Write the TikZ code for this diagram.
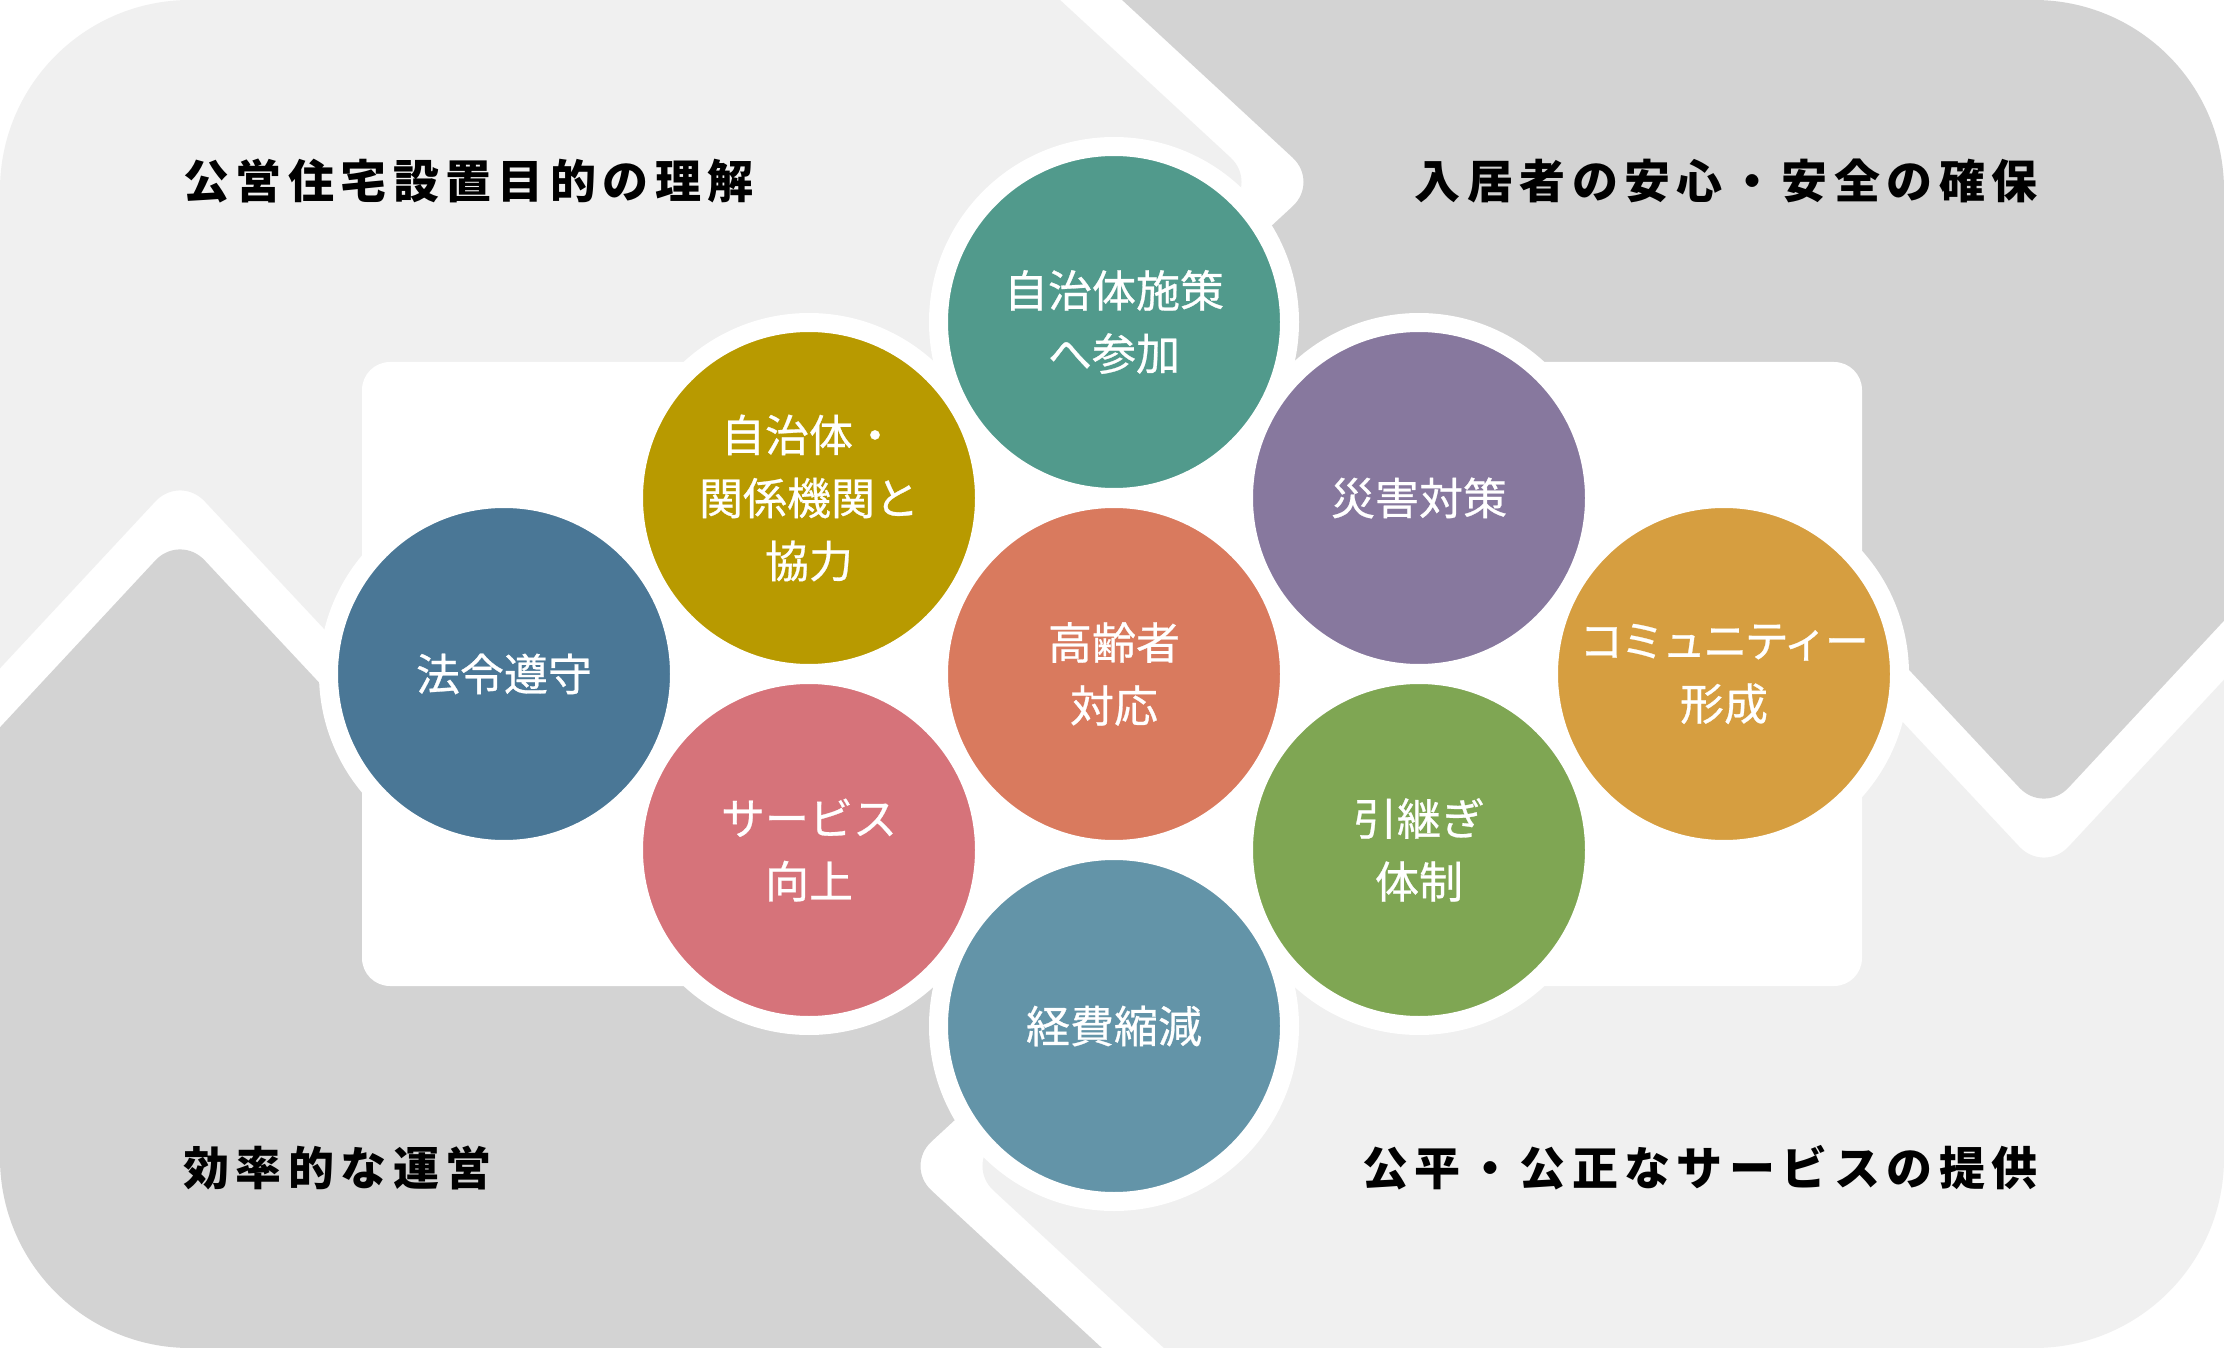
\documentclass[tikz,border=0pt]{standalone}
\usepackage{fontspec}
\setmainfont{Noto Sans CJK JP}
\newfontfamily\bubblefont{Noto Sans CJK JP}[FakeBold=0.6]
\newfontfamily\headfont{Noto Sans CJK JP}[LetterSpace=14]
\usepackage{xcolor}
\definecolor{pieceLight}{HTML}{F0F0F0}
\definecolor{pieceDark}{HTML}{D3D3D3}
\definecolor{bubTeal}{HTML}{519A8C}
\definecolor{bubOlive}{HTML}{B89A00}
\definecolor{bubBlue}{HTML}{4A7796}
\definecolor{bubCoral}{HTML}{D97A5E}
\definecolor{bubPurple}{HTML}{87789E}
\definecolor{bubOrange}{HTML}{D69E40}
\definecolor{bubPink}{HTML}{D6737A}
\definecolor{bubGreen}{HTML}{7FA653}
\definecolor{bubSteel}{HTML}{6394A8}
\tikzset{
  bubble/.style={circle,draw=white,line width=9.5pt,minimum size=175.5pt,inner sep=0pt,
                 align=center,text=white,font=\bubblefont\fontsize{22pt}{31.5pt}\selectfont},
  heading/.style={inner sep=0pt,font=\headfont\bfseries\fontsize{23pt}{28pt}\selectfont},
  piece/.style={rounded corners=18pt}
}

\begin{document}
\begin{tikzpicture}[x=0.5pt,y=-0.5pt]
  \useasboundingbox (0,0) rectangle (2224,1348);
  \fill[white] (0,0) rectangle (2224,1348);
  % four puzzle pieces
  \begin{scope}
    \clip[rounded corners=95pt] (0,0) rectangle (2224,1348);
    \fill[pieceLight,piece] (-50,-50) -- (1006,-50) -- (1257,182) -- (1021,400) -- (400,710)
         -- (180,475) -- (-50,722) -- cycle;
    \fill[pieceDark,piece] (1068,-50) -- (2274,-50) -- (2274,567) -- (2044,814) -- (1824,579)
         -- (1083,400) -- (1319,182) -- cycle;
    \fill[pieceLight,piece] (2274,1398) -- (1218,1398) -- (967,1166) -- (1203,948) -- (1824,638)
         -- (2044,873) -- (2274,626) -- cycle;
    \fill[pieceDark,piece] (1156,1398) -- (-50,1398) -- (-50,781) -- (180,534) -- (400,769)
         -- (1141,948) -- (905,1166) -- cycle;
  \end{scope}
  \fill[white,rounded corners=14pt] (362,362) rectangle (1862,986);

  % circles
  \node[bubble,fill=bubCoral]  (koreisha) at (1114,674)  {高齢者\\対応};
  \node[bubble,fill=bubTeal]   (sesaku)   at (1114,322)  {自治体施策\\へ参加};
  \node[bubble,fill=bubOlive]  (kyoryoku) at (809,498)   {自治体・\\関係機関と\\協力};
  \node[bubble,fill=bubBlue]   (horei)    at (504,674)   {法令遵守};
  \node[bubble,fill=bubPurple] (saigai)   at (1419,498)  {災害対策};
  \node[bubble,fill=bubOrange] (komyu)    at (1724,674)  {{\addfontfeature{LetterSpace=-6}コミュニティー}\\形成};
  \node[bubble,fill=bubPink]   (service)  at (809,850)   {サービス\\向上};
  \node[bubble,fill=bubGreen]  (hikitsugi) at (1419,850) {引継ぎ\\体制};
  \node[bubble,fill=bubSteel]  (keihi)    at (1114,1026) {経費縮減};

  % headings
  \node[heading,anchor=west] (mokuteki) at (183,181)  {公営住宅設置目的の理解};
  \node[heading,anchor=east] (anshin)   at (2038,181) {入居者の安心・安全の確保};
  \node[heading,anchor=west] (unei)     at (183,1168) {効率的な運営};
  \node[heading,anchor=east] (kosei)    at (2038,1168) {公平・公正なサービスの提供};
\end{tikzpicture}
\end{document}
